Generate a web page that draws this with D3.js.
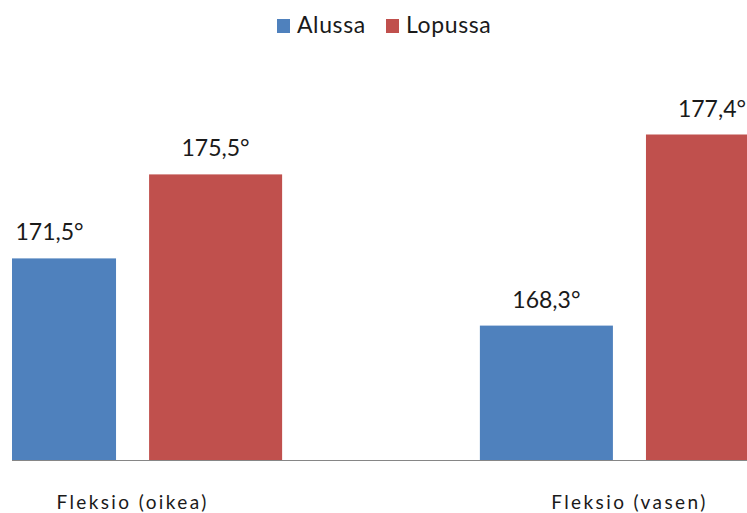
<!DOCTYPE html>
<html>
<head>
<meta charset="utf-8">
<script src="https://cdn.jsdelivr.net/npm/d3@7"></script>
<style>
  body { margin: 0; background: #fff; }
  text { font-family: Lato, "Open Sans", sans-serif; fill: #1a1a1a; }
</style>
</head>
<body>
<div id="graph"></div>
<script>
// data
var categories = ["Fleksio (oikea)", "Fleksio (vasen)"];
var seriesNames = ["Alussa", "Lopussa"];
var alussa = [171.5, 168.3];
var lopussa = [175.5, 177.4];
var palette = ["#4f81bd", "#c0504d"];

var width = 747, height = 513;
var svg = d3.select("#graph").append("svg")
    .attr("width", width)
    .attr("height", height);

// plot area is wider than the picture, the outer bars are cut by the frame
var plot = {left: 12, right: 747, baseline: 460};

svg.append("defs").append("clipPath")
    .attr("id", "clip")
  .append("rect")
    .attr("x", plot.left)
    .attr("y", 0)
    .attr("width", plot.right - plot.left)
    .attr("height", plot.baseline);

var x0 = d3.scaleBand()
    .domain(categories)
    .range([-17, 779])
    .paddingInner(0.398);

var x1 = d3.scaleBand()
    .domain(seriesNames)
    .range([0, x0.bandwidth()])
    .paddingInner(0.199);

var y = d3.scaleLinear()
    .domain([161.9, 178])
    .range([plot.baseline, plot.baseline - 16.1 * 21]);

var rows = [];
categories.forEach(function(c, i) {
    rows.push({cat: c, name: seriesNames[0], v: alussa[i], k: 0});
    rows.push({cat: c, name: seriesNames[1], v: lopussa[i], k: 1});
});
var barX = function(d) { return x0(d.cat) + x1(d.name); };

// bars
svg.append("g")
    .attr("clip-path", "url(#clip)")
  .selectAll("rect")
  .data(rows)
  .enter().append("rect")
    .attr("x", barX)
    .attr("y", function(d) { return y(d.v); })
    .attr("width", x1.bandwidth())
    .attr("height", function(d) { return plot.baseline - y(d.v); })
    .style("fill", function(d) { return palette[d.k]; });

// value labels, kept inside the frame
svg.append("g").selectAll("text")
  .data(rows)
  .enter().append("text")
    .attr("x", function(d) {
        var cx = barX(d) + x1.bandwidth() / 2;
        return Math.max(47, Math.min(712, cx));
    })
    .attr("y", function(d) { return y(d.v) - 18; })
    .attr("text-anchor", "middle")
    .style("font-size", "23px")
    .text(function(d) { return String(d.v).replace(".", ",") + "°"; });

// x axis
var xAxis = d3.axisBottom(x0).tickSize(0).tickPadding(36);
var gX = svg.append("g")
    .attr("transform", "translate(0," + plot.baseline + ")")
    .call(xAxis);
gX.select(".domain").remove();
gX.append("line")
    .attr("x1", plot.left).attr("x2", plot.right)
    .attr("y1", 0.5).attr("y2", 0.5)
    .style("stroke", "#868686");
gX.selectAll(".tick text")
    .style("font-family", "Lato, sans-serif")
    .style("font-size", "19px")
    .style("letter-spacing", "2.4px")
    .style("fill", "#1a1a1a");

// legend
var legendX = [277, 386];
var legend = svg.append("g").selectAll("g")
    .data(seriesNames)
    .enter().append("g")
    .attr("transform", function(d, i) { return "translate(" + legendX[i] + ",19)"; });
legend.append("rect")
    .attr("width", 13).attr("height", 14)
    .style("fill", function(d, i) { return palette[i]; });
legend.append("text")
    .attr("x", 20).attr("y", 14)
    .style("font-size", "23px")
    .style("letter-spacing", "0.6px")
    .text(function(d) { return d; });
</script>
</body>
</html>
